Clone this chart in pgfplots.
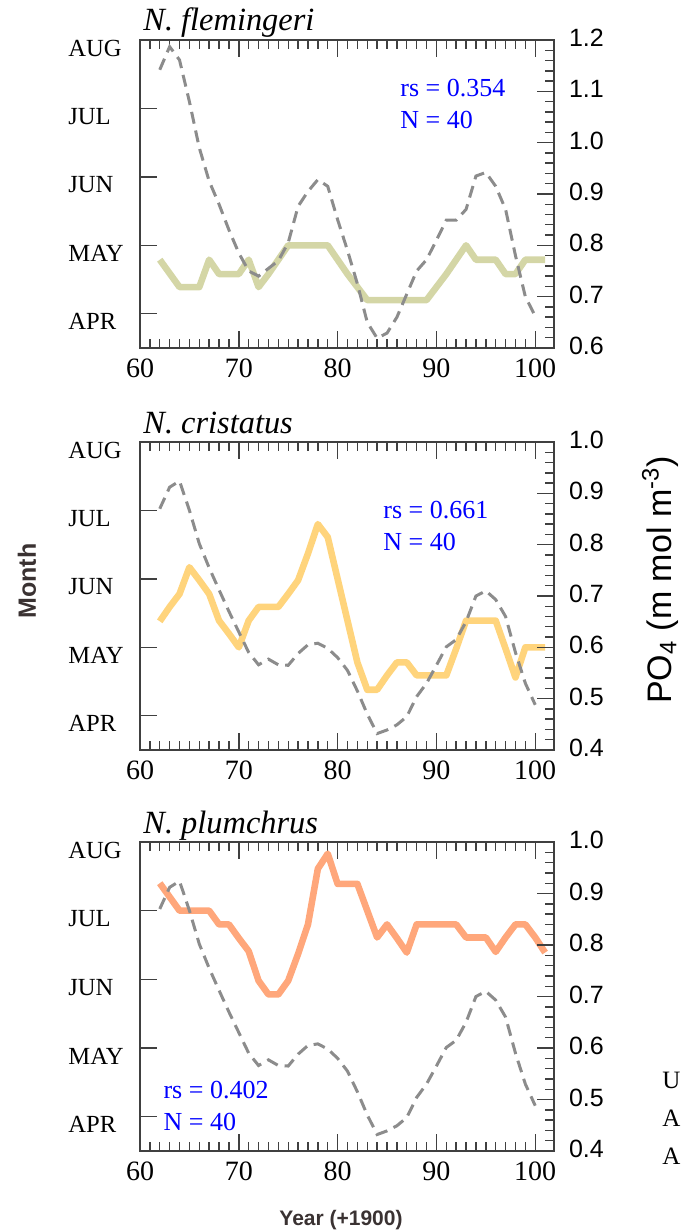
\documentclass[border=0pt]{standalone}
\usepackage{fontspec}
\setmainfont{Liberation Serif}
\setsansfont{Liberation Sans}
\usepackage{pgfplots}
\pgfplotsset{compat=1.18}
\usepackage{pgfplotstable}

\definecolor{khaki}{HTML}{D4D6A6}
\definecolor{yel}{HTML}{FFD47C}
\definecolor{salmon}{HTML}{FFA77B}
\definecolor{dgrey}{HTML}{8C8C8C}
\definecolor{axgrey}{HTML}{404040}
\definecolor{lab}{HTML}{3A3232}

\pgfplotstableread{
yr m
62 4.79
63 4.59
64 4.39
65 4.39
66 4.39
67 4.79
68 4.58
69 4.58
70 4.58
71 4.79
72 4.39
73 4.58
74 4.79
75 5.0
76 5.0
77 5.0
78 5.0
79 5.0
80 4.79
81 4.58
82 4.39
83 4.2
84 4.2
85 4.2
86 4.2
87 4.2
88 4.2
89 4.2
90 4.39
91 4.58
92 4.79
93 5.0
94 4.79
95 4.79
96 4.79
97 4.58
98 4.58
99 4.79
100 4.79
101 4.79
}\fleming

\pgfplotstableread{
yr p
62 1.142
63 1.187
64 1.161
65 1.08
66 0.99
67 0.925
68 0.88
69 0.83
70 0.785
71 0.75
72 0.74
73 0.755
74 0.77
75 0.805
76 0.876
77 0.905
78 0.928
79 0.915
80 0.85
81 0.79
82 0.725
83 0.65
84 0.619
85 0.629
86 0.66
87 0.705
88 0.75
89 0.772
90 0.81
91 0.849
92 0.849
93 0.87
94 0.935
95 0.942
96 0.915
97 0.87
98 0.78
99 0.70
100 0.662
}\poone

\pgfplotstableread{
yr m
62 5.38
63 5.59
64 5.78
65 6.17
66 5.98
67 5.78
68 5.39
69 5.2
70 5.0
71 5.39
72 5.59
73 5.59
74 5.59
75 5.78
76 5.98
77 6.37
78 6.8
79 6.61
80 6.0
81 5.39
82 4.78
83 4.38
84 4.38
85 4.59
86 4.78
87 4.78
88 4.59
89 4.59
90 4.59
91 4.59
92 4.98
93 5.39
94 5.39
95 5.39
96 5.39
97 4.98
98 4.56
99 5.0
100 5.0
101 5.0
}\crist

\pgfplotstableread{
yr p
62 0.870
63 0.912
64 0.924
65 0.867
66 0.802
67 0.755
68 0.712
69 0.67
70 0.63
71 0.59
72 0.566
73 0.577
74 0.566
75 0.565
76 0.588
77 0.605
78 0.608
79 0.598
80 0.58
81 0.555
82 0.515
83 0.47
84 0.432
85 0.439
86 0.449
87 0.465
88 0.504
89 0.53
90 0.565
91 0.601
92 0.615
93 0.65
94 0.70
95 0.71
96 0.693
97 0.66
98 0.59
99 0.53
100 0.488
}\potwo

\pgfplotstableread{
yr m
62 7.4
63 7.2
64 7.0
65 7.0
66 7.0
67 7.0
68 6.8
69 6.8
70 6.6
71 6.41
72 5.98
73 5.78
74 5.78
75 5.98
76 6.37
77 6.8
78 7.61
79 7.83
80 7.39
81 7.39
82 7.39
83 7.0
84 6.61
85 6.8
86 6.6
87 6.39
88 6.8
89 6.8
90 6.8
91 6.8
92 6.8
93 6.61
94 6.61
95 6.61
96 6.4
97 6.61
98 6.8
99 6.8
100 6.61
101 6.39
}\plum

\pgfplotsset{
  common/.style={scale only axis, width=207pt, height=154pt,
    xmin=60, xmax=101.9, anchor=south west,
    tick align=inside, major tick length=8.5pt, minor tick length=4.5pt,
    axis line style={-, axgrey, line width=0.9pt},
    tick style={axgrey, line width=0.7pt},
    clip=false},
  monthaxis/.style={common, ymin=3.5, ymax=8,
    xtick={60,70,80,90,100}, minor x tick num=9, xtick pos=both, xticklabel pos=bottom,
    ytick={4,5,6,7,8}, yticklabels={APR,MAY,JUN,JUL,AUG}, ytick pos=left,
    xticklabel style={font=\fontsize{14}{16}\selectfont, yshift=-2pt},
    yticklabel style={font=\fontsize{12.3}{14}\selectfont, anchor=west, inner sep=0pt, xshift=-36pt, yshift=-4pt},
    /pgf/number format/assume math mode=true},
  poaxis/.style={common, axis x line=none, axis y line*=right,
    ytick pos=right, yticklabel pos=right, minor y tick num=4,
    yticklabel style={font=\sffamily\fontsize{12.5}{14}\selectfont, xshift=4pt, yshift=1pt,
      /pgf/number format/.cd, fixed, fixed zerofill, precision=1, assume math mode=true}},
  solid line/.style={line width=3.3pt, line join=round},
  dash line/.style={dgrey, line width=1.5pt, dash pattern=on 6pt off 3.5pt},
}
\tikzset{
  ttl/.style={anchor=base west, inner sep=0pt, font=\itshape\fontsize{16.2}{18}\selectfont, xshift=1.5pt, yshift=4.5pt},
  rs/.style={anchor=base west, inner sep=0pt, text=blue, font=\fontsize{13}{15}\selectfont},
}

\begin{document}
\begin{tikzpicture}
\useasboundingbox (0,0) rectangle (341.5pt,616pt);

% ---------- Panel 1 ----------
\begin{axis}[monthaxis, at={(70pt,442pt)}]
  \addplot[solid line, khaki] table[x=yr, y=m] {\fleming};
  \node[ttl] at (rel axis cs:0,1) {N. flemingeri};
  \node[rs] at (rel axis cs:0.628,0.815) {rs = 0.354};
  \node[rs] at (rel axis cs:0.628,0.714) {N = 40};
\end{axis}
\begin{axis}[poaxis, at={(70pt,442pt)}, ymin=0.6, ymax=1.2, ytick={0.6,0.7,0.8,0.9,1.0,1.1,1.2}]
  \addplot[dash line] table[x=yr, y=p] {\poone};
\end{axis}

% ---------- Panel 2 ----------
\begin{axis}[monthaxis, at={(70pt,241pt)}]
  \addplot[solid line, yel] table[x=yr, y=m] {\crist};
  \node[ttl] at (rel axis cs:0,1) {N. cristatus};
  \node[rs] at (rel axis cs:0.587,0.753) {rs = 0.661};
  \node[rs] at (rel axis cs:0.587,0.649) {N = 40};
\end{axis}
\begin{axis}[poaxis, at={(70pt,241pt)}, ymin=0.4, ymax=1.0, ytick={0.4,0.5,0.6,0.7,0.8,0.9,1.0}]
  \addplot[dash line] table[x=yr, y=p] {\potwo};
\end{axis}

% ---------- Panel 3 ----------
\begin{axis}[monthaxis, at={(70pt,40.5pt)}, height=154.5pt]
  \addplot[solid line, salmon] table[x=yr, y=m] {\plum};
  \node[ttl] at (rel axis cs:0,1) {N. plumchrus};
  \node[rs] at (rel axis cs:0.056,0.169) {rs = 0.402};
  \node[rs] at (rel axis cs:0.056,0.065) {N = 40};
\end{axis}
\begin{axis}[poaxis, at={(70pt,40.5pt)}, height=154.5pt, ymin=0.4, ymax=1.0, ytick={0.4,0.5,0.6,0.7,0.8,0.9,1.0}]
  \addplot[dash line] table[x=yr, y=p] {\potwo};
\end{axis}

% ---------- outer labels ----------
\node[rotate=90, font=\sffamily\bfseries\fontsize{12.5}{14}\selectfont, text=lab] at (13.5pt,325.5pt) {Month};
\node[rotate=90, font=\sffamily\fontsize{17}{19}\selectfont] at (330pt,326pt) {PO\textsubscript{4} (m mol m\textsuperscript{-3})};
\node[font=\sffamily\bfseries\fontsize{10.5}{12}\selectfont, text=lab] at (170.5pt,6pt) {Year (+1900)};
\node[anchor=base west, inner sep=0pt, font=\fontsize{12.5}{15}\selectfont] at (331pt,71.5pt) {U};
\node[anchor=base west, inner sep=0pt, font=\fontsize{12.5}{15}\selectfont] at (331pt,52.5pt) {A};
\node[anchor=base west, inner sep=0pt, font=\fontsize{12.5}{15}\selectfont] at (331pt,34pt) {A};
\end{tikzpicture}
\end{document}
